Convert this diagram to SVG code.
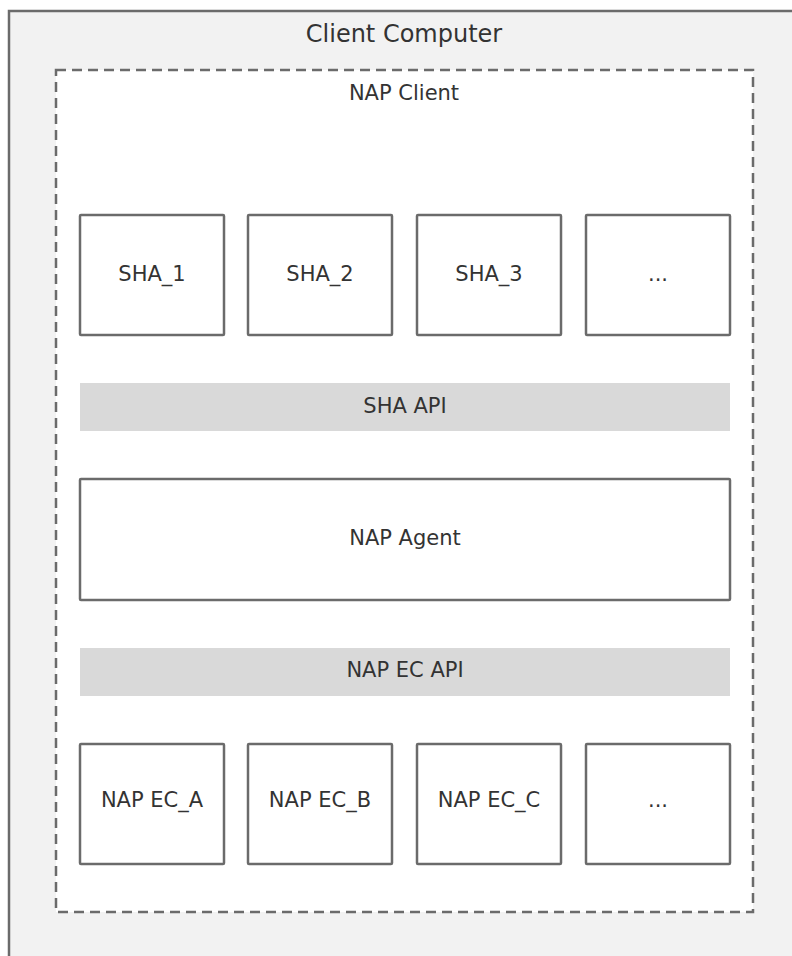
<svg xmlns="http://www.w3.org/2000/svg" width="792" height="956" viewBox="0 0 792 956">
<style>
text{font-family:"DejaVu Sans","Verdana",sans-serif;font-size:21px;fill:#333;text-anchor:middle;dominant-baseline:central}
.title{font-size:24px}
.box{fill:#fff;stroke:#6b6b6b;stroke-width:2.5}
.bar{fill:#d9d9d9}
</style>
<rect width="792" height="956" fill="#fff"/>
<g id="client-computer">
<rect x="9" y="11" width="800" height="960" fill="#f2f2f2" stroke="#6b6b6b" stroke-width="2.5"/>
<text class="title" x="404" y="34">Client Computer</text>
</g>
<g id="nap-client">
<rect x="56" y="70" width="697" height="842" fill="#fff" stroke="#6b6b6b" stroke-width="2.5" stroke-dasharray="10,6"/>
<text x="404" y="93">NAP Client</text>
</g>
<g id="sha1"><rect class="box" x="80" y="215" width="144" height="120" rx="1"/><text x="152" y="274">SHA_1</text></g>
<g id="sha2"><rect class="box" x="248" y="215" width="144" height="120" rx="1"/><text x="320" y="274">SHA_2</text></g>
<g id="sha3"><rect class="box" x="417" y="215" width="144" height="120" rx="1"/><text x="489" y="274">SHA_3</text></g>
<g id="sha4"><rect class="box" x="586" y="215" width="144" height="120" rx="1"/><text x="658" y="274">...</text></g>
<g id="sha-api"><rect class="bar" x="80" y="383" width="650" height="48"/><text x="405" y="406">SHA API</text></g>
<g id="nap-agent"><rect class="box" x="80" y="479" width="650" height="121" rx="1"/><text x="405" y="538">NAP Agent</text></g>
<g id="nap-ec-api"><rect class="bar" x="80" y="648" width="650" height="48"/><text x="405" y="670">NAP EC API</text></g>
<g id="ec-a"><rect class="box" x="80" y="744" width="144" height="120" rx="1"/><text x="152" y="800">NAP EC_A</text></g>
<g id="ec-b"><rect class="box" x="248" y="744" width="144" height="120" rx="1"/><text x="320" y="800">NAP EC_B</text></g>
<g id="ec-c"><rect class="box" x="417" y="744" width="144" height="120" rx="1"/><text x="489" y="800">NAP EC_C</text></g>
<g id="ec-d"><rect class="box" x="586" y="744" width="144" height="120" rx="1"/><text x="658" y="800">...</text></g>
<g id="connectors"/>
</svg>
